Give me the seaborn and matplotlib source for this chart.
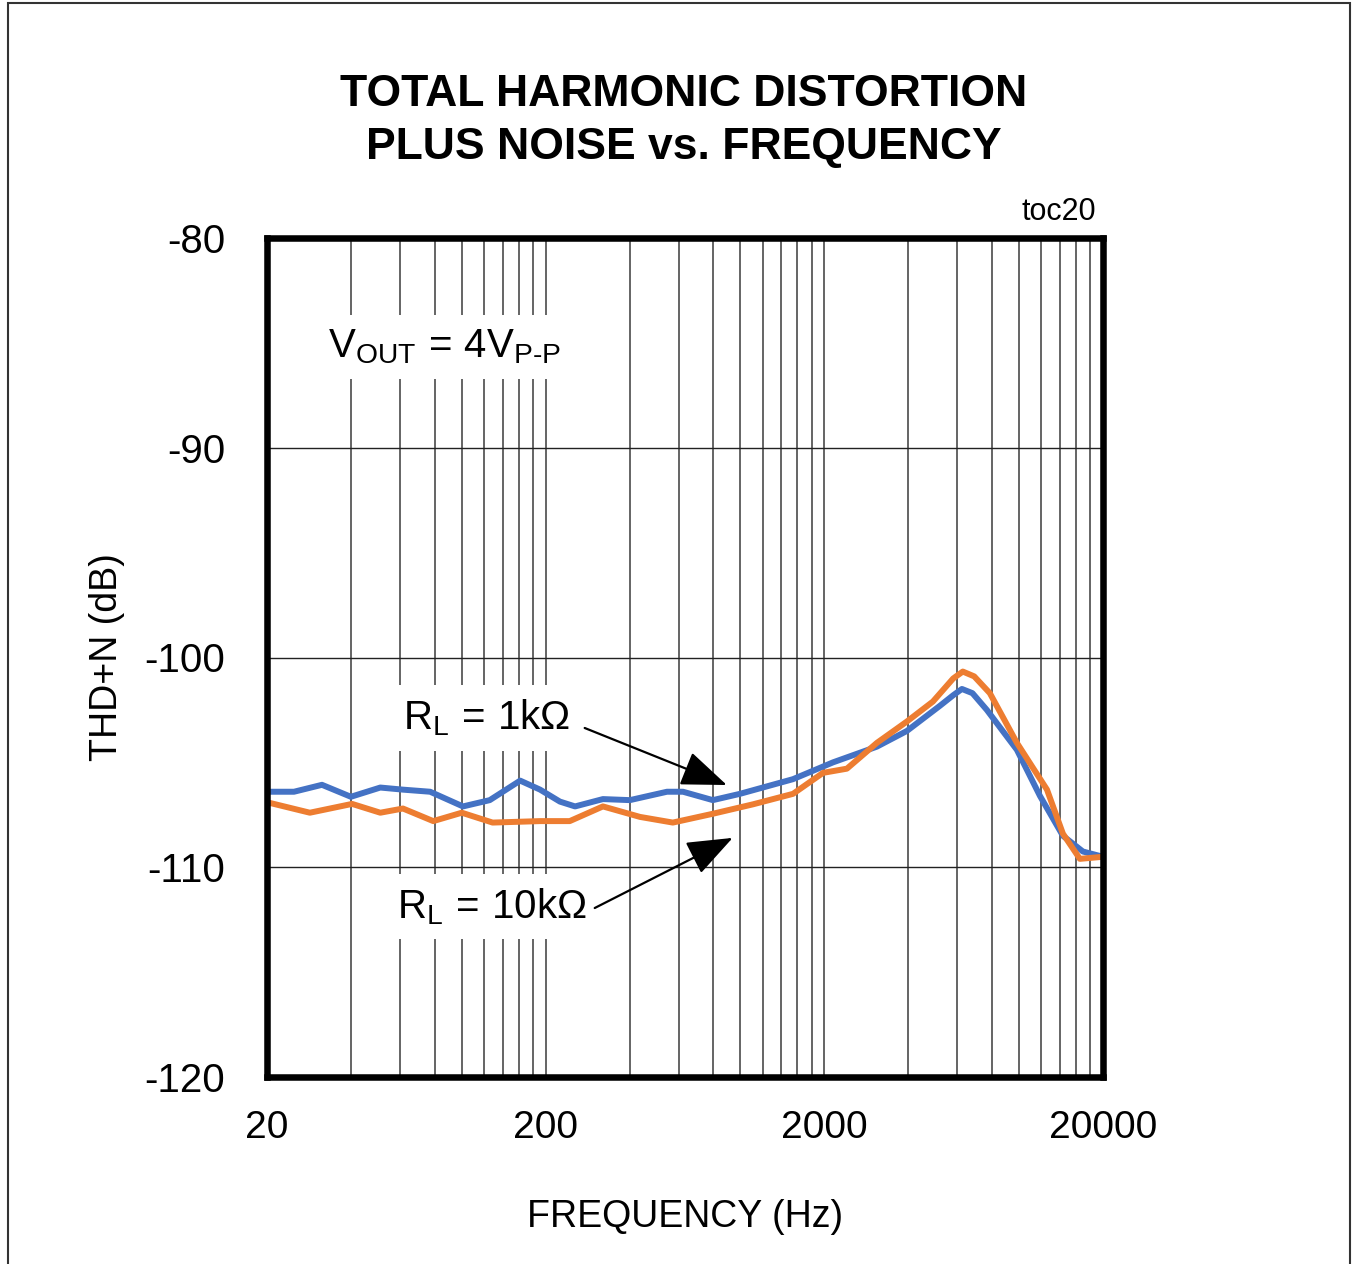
import numpy as np
import pandas as pd
import matplotlib
matplotlib.use("Agg")
import matplotlib.pyplot as plt
import seaborn as sns
from matplotlib.ticker import FixedLocator, NullFormatter, FixedFormatter
from matplotlib.patches import Rectangle

# data (frequency in Hz, THD+N in dB)
freq_1k = [20, 25, 31.5, 40, 51, 61.5, 77, 101, 126, 162, 191, 225, 255, 321, 401,
           545, 622, 796, 996, 1544, 1978, 2148, 3088, 3958, 5200, 5800, 6234, 6800,
           7660, 9817, 11880, 14360, 16940, 20000]
thd_1k = [-106.4, -106.4, -106.07, -106.64, -106.2, -106.3, -106.4, -107.1, -106.8,
          -105.87, -106.3, -106.87, -107.1, -106.75, -106.8, -106.4, -106.4, -106.8,
          -106.5, -105.8, -105.2, -105.0, -104.25, -103.5, -102.3, -101.8, -101.5,
          -101.7, -102.5, -104.4, -106.6, -108.5, -109.25, -109.5]

freq_10k = [20, 28.5, 40.4, 51, 61.5, 79, 100, 129, 191, 244, 321, 436, 572, 796, 1109,
            1544, 1978, 2410, 3088, 3958, 4906, 5800, 6280, 6900, 7852, 9817, 12590,
            14360, 16520, 20000]
thd_10k = [-106.9, -107.4, -106.98, -107.4, -107.2, -107.8, -107.4, -107.87, -107.8,
           -107.8, -107.1, -107.6, -107.87, -107.45, -107.0, -106.5, -105.5, -105.3,
           -104.07, -103.05, -102.1, -101.0, -100.67, -100.9, -101.7, -104.07, -106.3,
           -108.4, -109.6, -109.5]

series_names = ["RL = 1k", "RL = 10k"]
series_colors = ["#4472C4", "#ED7D31"]
x_ticks = [20, 200, 2000, 20000]
x_ticklabels = ["20", "200", "2000", "20000"]
y_ticks = [-120, -110, -100, -90, -80]

df = pd.concat([
    pd.DataFrame({"freq": freq_1k, "thd": thd_1k, "load": series_names[0]}),
    pd.DataFrame({"freq": freq_10k, "thd": thd_10k, "load": series_names[1]}),
])

sns.set_style("white")
plt.rcParams["font.family"] = ["Liberation Sans", "DejaVu Sans"]
plt.rcParams["mathtext.fontset"] = "custom"
plt.rcParams["mathtext.rm"] = "Liberation Sans"
plt.rcParams["mathtext.it"] = "Liberation Sans"
plt.rcParams["text.color"] = "black"
plt.rcParams["axes.labelcolor"] = "black"
plt.rcParams["xtick.color"] = "black"
plt.rcParams["ytick.color"] = "black"

fig = plt.figure(figsize=(13.54, 12.64), dpi=100)
ax = fig.add_axes([267 / 1354, 187 / 1264, 836 / 1354, 839 / 1264])

sns.lineplot(data=df, x="freq", y="thd", hue="load", palette=series_colors,
             linewidth=4.3, legend=False, ax=ax, zorder=2)

ax.set_xscale("log")
ax.set_xlim(20, 20000)
ax.set_ylim(-120, -80)

# log grid on multiples of 20
minor = [20 * k * 10 ** n for n in range(3) for k in range(2, 10)]
ax.xaxis.set_major_locator(FixedLocator(x_ticks))
ax.xaxis.set_major_formatter(FixedFormatter(x_ticklabels))
ax.xaxis.set_minor_locator(FixedLocator(minor))
ax.xaxis.set_minor_formatter(NullFormatter())
ax.set_yticks(y_ticks)
ax.set_yticklabels([str(v) for v in y_ticks])
ax.set_axisbelow(True)
ax.grid(which="both", axis="x", color="#3a3a3a", linewidth=1.1)
ax.grid(which="major", axis="y", color="#222222", linewidth=1.0)
ax.tick_params(which="both", length=0)
ax.tick_params(axis="y", pad=30, labelsize=29)
ax.tick_params(axis="x", pad=24, labelsize=28)

for s in ax.spines.values():
    s.set_linewidth(4.7)
    s.set_color("black")

ax.set_xlabel("FREQUENCY (Hz)", fontsize=27, labelpad=38)
ax.set_ylabel("THD+N (dB)", fontsize=27, labelpad=14)

fig.text(0.505, 1 - 121 / 1264, "TOTAL HARMONIC DISTORTION\nPLUS NOISE vs. FREQUENCY",
         ha="center", va="center", fontsize=32, fontweight="bold", linespacing=1.4)
fig.text(1096 / 1354, 1 - 212 / 1264, "toc20", ha="right", va="center", fontsize=22)

box = dict(facecolor="white", edgecolor="none", pad=9)
ax.text(0.073, 0.870, r"$\mathregular{V_{OUT}\,=\,4V_{P\text{-}P}}$", transform=ax.transAxes,
        ha="left", va="center", fontsize=29, bbox=box, zorder=3)
ax.text(0.163, 0.428, r"$\mathregular{R_L\,=\,1k\Omega}$", transform=ax.transAxes,
        ha="left", va="center", fontsize=29, bbox=box, zorder=3)
ax.text(0.155, 0.203, r"$\mathregular{R_L\,=\,10k\Omega}$", transform=ax.transAxes,
        ha="left", va="center", fontsize=29, bbox=box, zorder=3)

arrow = dict(arrowstyle="-|>,head_length=1.3,head_width=0.5", color="black",
             lw=1.6, mutation_scale=22, shrinkA=0, shrinkB=0)
ax.annotate("", xy=(0.550, 0.348), xytext=(0.380, 0.416), xycoords="axes fraction",
            textcoords="axes fraction", arrowprops=arrow, zorder=4)
ax.annotate("", xy=(0.557, 0.285), xytext=(0.392, 0.2014), xycoords="axes fraction",
            textcoords="axes fraction", arrowprops=arrow, zorder=4)

# outer frame
fig.patches.append(Rectangle((8 / 1354, -0.01), 1342 / 1354, 1.01 - 3 / 1264,
                             transform=fig.transFigure, fill=False,
                             edgecolor="#333333", linewidth=1.5))

fig.savefig("out.png", dpi=100)
